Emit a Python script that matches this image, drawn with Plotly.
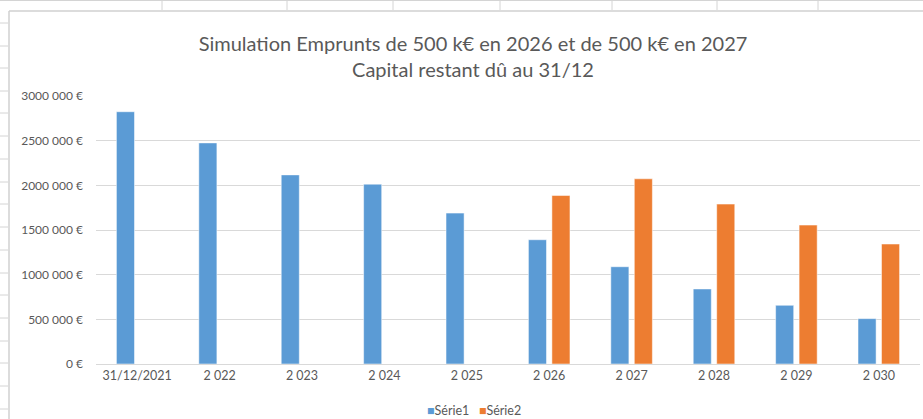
import plotly.graph_objects as go

categories = ["31/12/2021", "2 022", "2 023", "2 024", "2 025", "2 026", "2 027", "2 028", "2 029", "2 030"]
serie1 = [2824000, 2475000, 2117000, 2013000, 1689000, 1391000, 1089000, 840000, 657000, 508000]
serie2 = [None, None, None, None, None, 1886000, 2073000, 1790000, 1555000, 1343000]
series_names = ["Série1", "Série2"]
series_colors = ["#5B9BD5", "#ED7D31"]
y_tickvals = [0, 500000, 1000000, 1500000, 2000000, 2500000, 3000000]
y_ticktext = ["0 €", "500 000 €", "1000 000 €", "1500 000 €", "2000 000 €", "2500 000 €", "3000 000 €"]

W, H = 923, 419
L, R, T, B = 96, 3, 96, 55
PW, PH = W - L - R, H - T - B

def px(x):
    return (x - L) / PW

def py(y):
    return (H - B - y) / PH

TXT = "#595959"
GRID = "#D9D9D9"
FONT = "Lato, Carlito, Calibri, sans-serif"

fig = go.Figure()
for name, vals, col in zip(series_names, [serie1, serie2], series_colors):
    fig.add_trace(go.Bar(name=name, x=categories, y=vals, marker_color=col,
                         marker_line=dict(color="rgba(255,255,255,0.5)", width=1),
                         showlegend=False))

shapes = []
sheet_line = dict(color="#D4D4D4", width=1)
# spreadsheet frame around the chart
shapes.append(dict(type="line", xref="paper", yref="paper", x0=px(0), x1=px(W), y0=py(0.5), y1=py(0.5), line=sheet_line, layer="below"))
for xv in [162, 287, 393, 500, 612, 717, 818]:
    shapes.append(dict(type="line", xref="paper", yref="paper", x0=px(xv), x1=px(xv), y0=py(0), y1=py(10), line=sheet_line, layer="below"))
for yv in [23, 46, 68, 91, 113, 136, 159, 182, 204, 227, 250, 273, 295, 318, 341, 363, 386, 409]:
    shapes.append(dict(type="line", xref="paper", yref="paper", x0=px(0), x1=px(8), y0=py(yv), y1=py(yv), line=sheet_line, layer="below"))
# chart area border
shapes.append(dict(type="line", xref="paper", yref="paper", x0=px(9), x1=px(W), y0=py(11), y1=py(11), line=dict(color="#D0D0D0", width=1.5), layer="below"))
shapes.append(dict(type="line", xref="paper", yref="paper", x0=px(9), x1=px(9), y0=py(11), y1=py(H), line=dict(color="#D0D0D0", width=1.5), layer="below"))

legend_text = "&nbsp;&nbsp;&nbsp;".join(
    f"<span style='color:{c}'>■</span>{n}" for n, c in zip(series_names, series_colors))

fig.update_layout(
    width=W, height=H,
    margin=dict(l=L, r=R, t=T, b=B),
    paper_bgcolor="white", plot_bgcolor="white",
    barmode="group", bargap=0.43, bargroupgap=0.23,
    font=dict(family=FONT, color=TXT, size=12),
    title=dict(text="Simulation Emprunts de 500 k€ en 2026 et de 500 k€ en 2027<br>Capital restant dû au 31/12",
               x=(473) / W, xanchor="center", xref="container",
               y=1 - 51 / H, yanchor="middle", yref="container",
               font=dict(family=FONT, size=20, color=TXT)),
    xaxis=dict(showgrid=False, showline=True, linecolor=GRID, linewidth=1, ticks="",
               tickfont=dict(size=12.5, color=TXT), fixedrange=True),
    yaxis=dict(range=[0, 3000000], tickvals=y_tickvals, ticktext=y_ticktext,
               showgrid=True, gridcolor=GRID, gridwidth=1, zeroline=False, showline=False,
               ticks="", ticklabelstandoff=12, tickfont=dict(size=12, color=TXT), fixedrange=True),
    annotations=[dict(text=legend_text, xref="paper", yref="paper", x=px(474), y=py(410),
                      xanchor="center", yanchor="middle", showarrow=False,
                      font=dict(family=FONT, size=12.5, color=TXT))],
    shapes=shapes,
)

fig.write_html("out.html", config={"displayModeBar": False},
               post_script="document.body.style.margin='0';document.body.style.padding='0';")
